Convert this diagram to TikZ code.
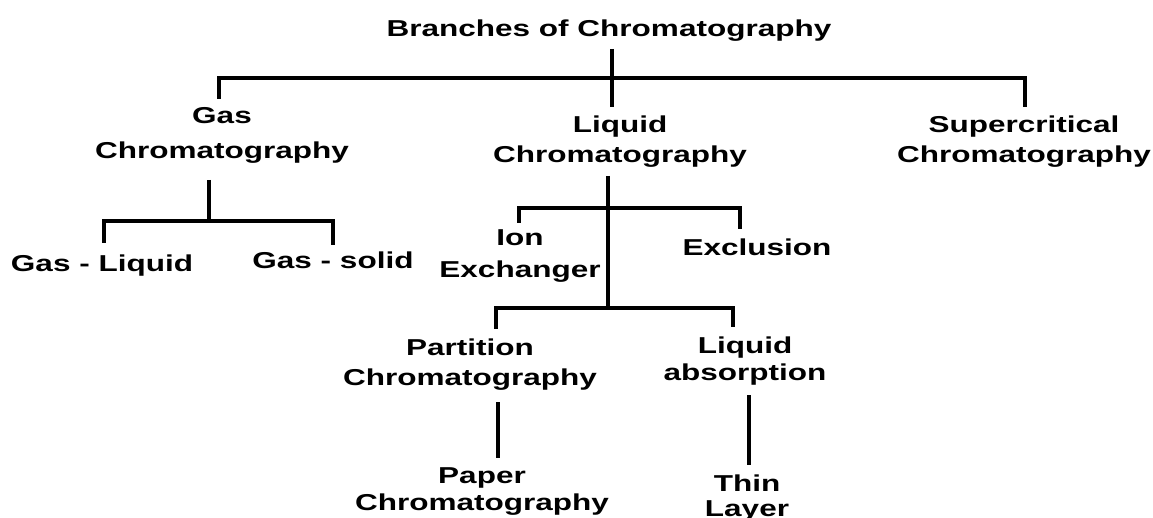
\documentclass[tikz,border=0pt]{standalone}
\usepackage{fontspec}
\setmainfont{Liberation Sans}[FakeStretch=1.37]
\usepackage{tikz}
\usetikzlibrary{positioning}

\tikzset{%
  branch/.style={%
    line width=3.8pt,
    draw=black,
  },
  kind/.style={%
    align=center,
    inner sep=0pt,
    anchor=base,
    font=\bfseries\fontsize{23}{30}\selectfont,
  },
}

\begin{document}
\begin{tikzpicture}[x=1pt, y=-1pt]
  \useasboundingbox (0,0) rectangle (1153,518);

  % labels, placed on the baseline of their last line
  \node [kind] at (609,37) (title) {Branches of Chromatography};

  \node [kind, font=\bfseries\fontsize{23}{35}\selectfont] at (222,159) (gas) {Gas\\Chromatography};
  \node [kind] at (620,163) (liquid) {Liquid\\Chromatography};
  \node [kind] at (1024,163) (super) {Supercritical\\Chromatography};

  \node [kind] at (102,272) (gasliq) {Gas - Liquid};
  \node [kind] at (333,269) (gassol) {Gas - solid};

  \node [kind, font=\bfseries\fontsize{23}{32}\selectfont] at (520,278) (ion) {Ion\\Exchanger};
  \node [kind] at (757,256) (excl) {Exclusion};

  \node [kind] at (470,385) (part) {Partition\\Chromatography};
  \node [kind, font=\bfseries\fontsize{23}{27}\selectfont] at (745,380) (absorb) {Liquid\\absorption};

  \node [kind, font=\bfseries\fontsize{23}{27}\selectfont] at (482,510) (paper) {Paper\\Chromatography};
  \node [kind, font=\bfseries\fontsize{23}{25}\selectfont] at (747,516) (thin) {Thin\\Layer};

  % stems and bars
  \coordinate (root top) at (612,49);
  \coordinate (root end) at (612,107);
  \coordinate (main bar) at (612,78);
  \coordinate (gas top) at (219,99);
  \coordinate (super top) at (1025,107);

  \coordinate (gas stem) at (209,180);
  \coordinate (gas bar) at (209,221);
  \coordinate (gasliq top) at (104,243);
  \coordinate (gassol top) at (333,245);

  \coordinate (liq stem) at (608,176);
  \coordinate (liq bar) at (608,208);
  \coordinate (liq end) at (608,308);
  \coordinate (ion top) at (519,223);
  \coordinate (excl top) at (740,229);
  \coordinate (part top) at (496,329);
  \coordinate (absorb top) at (733,327);

  \coordinate (part stem) at (498,402);
  \coordinate (paper top) at (498,458);
  \coordinate (absorb stem) at (749,395);
  \coordinate (thin top) at (749,465);

  \draw[branch] (root top) -- (root end);
  \draw[branch] (gas top) |- (main bar) -| (super top);

  \draw[branch] (gas stem) -- (gas bar);
  \draw[branch] (gasliq top) |- (gas bar) -| (gassol top);

  \draw[branch] (liq stem) -- (liq end);
  \draw[branch] (ion top) |- (liq bar) -| (excl top);
  \draw[branch] (part top) |- (liq end) -| (absorb top);

  \draw[branch] (part stem) -- (paper top);
  \draw[branch] (absorb stem) -- (thin top);
\end{tikzpicture}
\end{document}
